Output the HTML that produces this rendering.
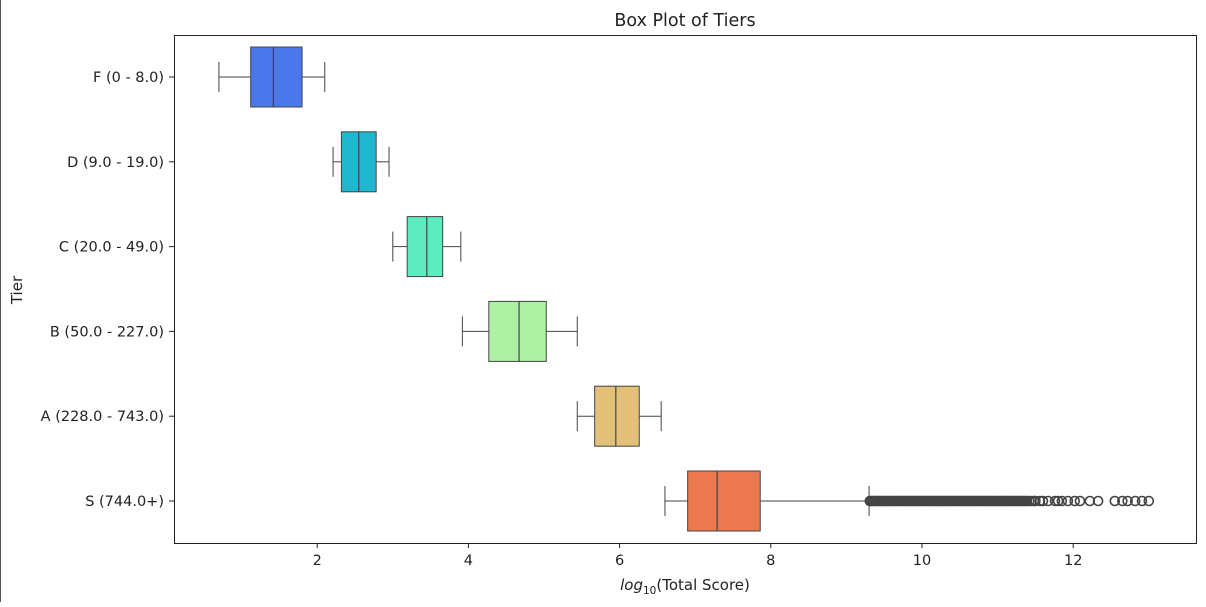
<!DOCTYPE html>
<html><head><meta charset="utf-8"><style>
body{margin:0;background:#fff;}
svg text{font-family:"DejaVu Sans","Liberation Sans",sans-serif;fill:#222;}
</style></head><body>
<svg id="c" width="1206" height="602" viewBox="0 0 1206 602" xmlns="http://www.w3.org/2000/svg">
<line x1="0.5" y1="0" x2="0.5" y2="602" stroke="#555"/>
<text x="685" y="26" font-size="17.5" text-anchor="middle">Box Plot of Tiers</text>
<rect x="174.5" y="35.5" width="1022" height="508" fill="none" stroke="#222"/>
<g id="marks"></g>
<text x="685" y="590" font-size="15" text-anchor="middle"><tspan font-style="italic">log</tspan><tspan font-size="10.5" dy="4">10</tspan><tspan dy="-4">(Total Score)</tspan></text>
<text x="22" y="290" font-size="15" text-anchor="middle" transform="rotate(-90 22 290)">Tier</text>
</svg>
<script>
const categories=["F (0 - 8.0)","D (9.0 - 19.0)","C (20.0 - 49.0)","B (50.0 - 227.0)","A (228.0 - 743.0)","S (744.0+)"];
const whiskerLow=[0.7,2.21,3.0,3.92,5.44,6.6];
const q1=[1.12,2.32,3.19,4.27,5.67,6.9];
const medians=[1.42,2.55,3.45,4.67,5.95,7.29];
const q3=[1.8,2.78,3.66,5.03,6.26,7.86];
const whiskerHigh=[2.1,2.95,3.9,5.44,6.55,9.3];
const colors=["#4a78ea","#1fb8d0","#5eebc0","#aef0a4","#e2c07a","#ec7850"];
const xTicks=[2,4,6,8,10,12];
const outliersS=[9.31,9.33,9.35,9.37,9.39,9.41,9.43,9.45,9.47,9.49,9.51,9.53,9.55,9.57,9.59,9.61,9.63,9.65,9.67,9.69,9.71,9.73,9.75,9.77,9.79,9.81,9.83,9.85,9.87,9.89,9.91,9.93,9.95,9.97,9.99,10.01,10.03,10.05,10.07,10.09,10.11,10.13,10.15,10.17,10.19,10.21,10.23,10.25,10.27,10.29,10.31,10.33,10.35,10.37,10.39,10.41,10.43,10.45,10.47,10.49,10.51,10.53,10.55,10.57,10.59,10.61,10.63,10.65,10.67,10.69,10.71,10.73,10.75,10.77,10.79,10.81,10.83,10.85,10.87,10.89,10.91,10.93,10.95,10.97,10.99,11.01,11.03,11.05,11.07,11.09,11.11,11.13,11.15,11.17,11.19,11.21,11.23,11.25,11.27,11.29,11.31,11.33,11.35,11.37,11.39,11.42,11.45,11.48,11.5,11.56,11.6,11.67,11.76,11.8,11.85,11.93,12.02,12.09,12.22,12.33,12.55,12.65,12.72,12.82,12.91,13.0];
const NS="http://www.w3.org/2000/svg";
const X=v=>166+75.6*v;
const Y=i=>77+84.8*i;
const g=document.getElementById('marks');
function mk(t,a){const e=document.createElementNS(NS,t);for(const k in a)e.setAttribute(k,a[k]);g.appendChild(e);return e;}
xTicks.forEach(t=>{
  const l=mk('line',{x1:X(t),x2:X(t),y1:543,y2:548,stroke:'#222'});
  
  
  const tx=mk('text',{x:X(t),y:565,'font-size':14.5,'text-anchor':'middle'});tx.textContent=t;
  
  
});
categories.forEach((c,i)=>{
  const y=Y(i),h=30,s='#444';
  const tk=mk('line',{x1:169,x2:174,y1:y,y2:y,stroke:'#222'});
  
  
  const tx=mk('text',{x:164,y:y+5,'font-size':14.5,'text-anchor':'end'});tx.textContent=c;
  
  
  const w1=mk('line',{x1:X(whiskerLow[i]),x2:X(q1[i]),y1:y,y2:y,stroke:s});
  
  
  const w2=mk('line',{x1:X(q3[i]),x2:X(whiskerHigh[i]),y1:y,y2:y,stroke:s});
  
  
  [whiskerLow[i],whiskerHigh[i]].forEach(v=>{const cap=mk('line',{x1:X(v),x2:X(v),y1:y-15,y2:y+15,stroke:s});
    
    });
  const b=mk('rect',{x:X(q1[i]),y:y-h,width:X(q3[i])-X(q1[i]),height:2*h,fill:colors[i],stroke:s});
  
  
  const m=mk('line',{x1:X(medians[i]),x2:X(medians[i]),y1:y-h,y2:y+h,stroke:s,'stroke-width':1.2});
  
  
});
outliersS.forEach(v=>{
  const o=mk('circle',{cx:X(v),cy:Y(5),r:4.5,fill:'none',stroke:'#444','stroke-width':1.6});
  
  
});
</script>
</body></html>
